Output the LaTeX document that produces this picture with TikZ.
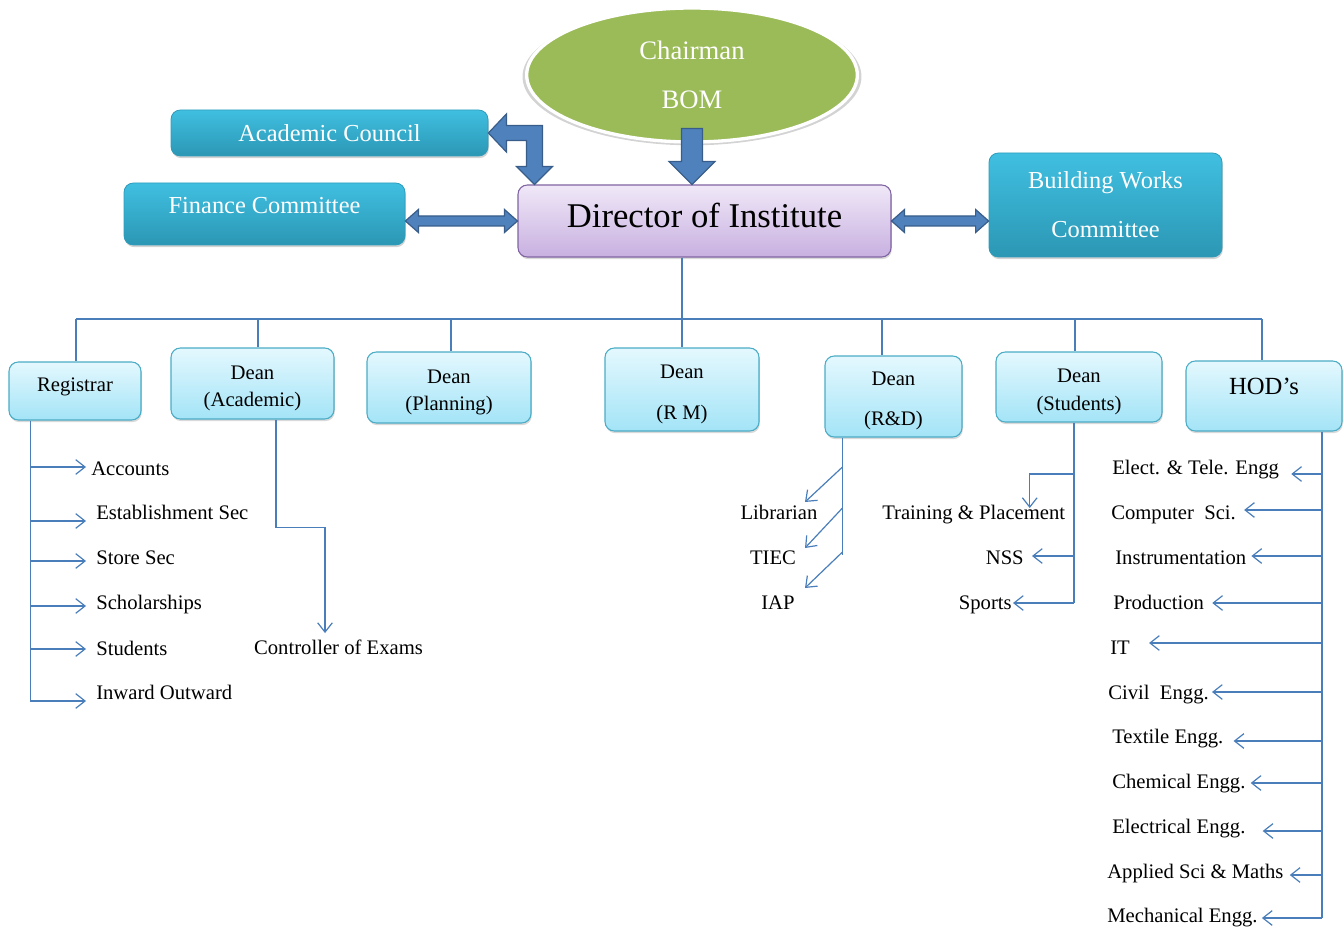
\documentclass[tikz,border=0pt]{standalone}
\usepackage{fontspec}
\setmainfont{Liberation Serif}
\usetikzlibrary{positioning, arrows.meta, shapes.geometric, shadows, calc}

\definecolor{teal1}{HTML}{40BFE1}
\definecolor{teal2}{HTML}{2B97B4}
\definecolor{tealedge}{HTML}{2E9CBA}
\definecolor{cyan1}{HTML}{E4F8FE}
\definecolor{cyan2}{HTML}{A3E4F7}
\definecolor{cyanedge}{HTML}{4BACC6}
\definecolor{lav1}{HTML}{F0E8F8}
\definecolor{lav2}{HTML}{C8B0E0}
\definecolor{lavedge}{HTML}{8064A2}
\definecolor{olive}{HTML}{9BBB59}
\definecolor{arrowfill}{HTML}{4F81BD}
\definecolor{arrowedge}{HTML}{385D8A}
\definecolor{linkblue}{HTML}{4A7EBB}

\newcommand{\topstrut}{\rule{0pt}{14pt}}

\begin{document}
\begin{tikzpicture}
  [x=0.75pt, y=-0.75pt,
   committee/.style={rectangle, rounded corners=7pt, top color=teal1, bottom color=teal2,
     draw=tealedge, line width=0.6pt, text=white, font=\fontsize{18.3}{22}\selectfont, align=center,
     drop shadow={opacity=0.35, shadow xshift=0.6pt, shadow yshift=-1.6pt}},
   office/.style={rectangle, rounded corners=7pt, top color=cyan1, bottom color=cyan2,
     draw=cyanedge, line width=0.8pt, font=\fontsize{15.5}{20}\selectfont, align=center,
     drop shadow={opacity=0.3, shadow xshift=0.6pt, shadow yshift=-1.6pt}},
   twoline/.style={text depth=0pt},
   unit/.style={inner sep=0pt, font=\fontsize{15.5}{18}\selectfont, text height=11.6pt, text depth=1.4pt},
   link/.style={draw=linkblue, line width=0.9pt},
   pointer/.style={-{Straight Barb[length=7pt, width=11pt]}},
   blockarrow/.style={fill=arrowfill, draw=arrowedge, line width=0.9pt, line join=miter}]

  \useasboundingbox (0,0) rectangle (1344,930);

  % top level
  \node[ellipse, minimum width=248pt, minimum height=100.5pt, inner sep=0pt, fill=olive,
        draw=white, line width=2.5pt, text=white, font=\fontsize{20}{24}\selectfont, align=center,
        drop shadow={opacity=0.35, shadow xshift=0pt, shadow yshift=-1.2pt, shadow scale=1.025}] (chair) at (692,75) {Chairman\\[12.75pt]BOM};
  \node[committee, minimum width=237.75pt, minimum height=34.5pt] (acad) at (329.5,133) {Academic Council};
  \node[committee, minimum width=210.75pt, minimum height=46.5pt, text height=13.7pt, text depth=15.15pt] (fin) at (264.5,214) {Finance Committee};
  \node[committee, minimum width=174.75pt, minimum height=78pt] (bwc) at (1105.5,205) {Building Works\\[14.75pt]Committee};
  \node[rectangle, rounded corners=7pt, top color=lav1, bottom color=lav2, draw=lavedge, line width=0.8pt,
        font=\fontsize{26}{30}\selectfont, minimum width=279.75pt, minimum height=54pt,
        text height=19.5pt, text depth=9.84pt,
        drop shadow={opacity=0.3, shadow xshift=0.6pt, shadow yshift=-1.6pt}] (dir) at (704.5,221) {Director of Institute};

  % block arrows
  \draw[blockarrow] (chair.south |- dir.north) -- ++(-23,-23) -- ++(12.5,0) -- ++(0,-33) -- ++(21,0) -- ++(0,33) -- ++(12.5,0) -- cycle;
  \coordinate (fa) at (fin.east |- dir.west);
  \draw[blockarrow] (fa) -- ++(13,-11.5) -- ++(0,6.5) -- ($(dir.west)+(-13,-5)$) -- ++(0,-6.5) -- (dir.west)
    -- ++(-13,11.5) -- ++(0,-6.5) -- ($(fa)+(13,5)$) -- ++(0,6.5) -- cycle;
  \coordinate (ba) at (bwc.west |- dir.east);
  \draw[blockarrow] (dir.east) -- ++(13,-11.5) -- ++(0,6.5) -- ($(ba)+(-13,-5)$) -- ++(0,-6.5) -- (ba)
    -- ++(-13,11.5) -- ++(0,-6.5) -- ($(dir.east)+(13,5)$) -- ++(0,6.5) -- cycle;
  \coordinate (ab) at ($(dir.north west)+(17,0)$);
  \coordinate (ac) at (ab |- acad.east);
  \draw[blockarrow] (acad.east) -- ++(18,-19) -- ++(0,11.5) -- ($(ac)+(8,-7.5)$) -- ($(ab)+(8,-18)$) -- ++(10,0)
    -- (ab) -- ++(-18,-18) -- ++(10,0) -- ($(ac)+(-8,7.5)$) -- ($(acad.east)+(18,7.5)$) -- ++(0,11.5) -- cycle;

  % second level
  \node[office, minimum width=99pt, minimum height=43.5pt, text height=11.6pt, text depth=10.4pt] (reg) at (75,391) {Registrar};
  \node[office, twoline, minimum width=122.25pt, minimum height=53.25pt] (dac) at (252.5,383.5) {\topstrut Dean\\(Academic)};
  \node[office, twoline, minimum width=123pt, minimum height=53.25pt] (dpl) at (449,387.5) {\topstrut Dean\\(Planning)};
  \node[office, twoline, minimum width=115.5pt, minimum height=62.25pt] (drm) at (682,389.5) {\topstrut Dean\\[10.5pt](R M)};
  \node[office, twoline, minimum width=102.75pt, minimum height=60.75pt] (drd) at (893.5,396.5) {\topstrut Dean\\[10pt](R\&D)};
  \node[office, twoline, minimum width=124.5pt, minimum height=52.5pt] (dst) at (1079,387) {\topstrut Dean\\[1pt](Students)};
  \node[office, font=\fontsize{18.5}{22}\selectfont, minimum width=117pt, minimum height=52.5pt,
        text height=13.9pt, text depth=16.67pt] (hod) at (1264,396) {HOD’s};

  \coordinate (bus) at (0,319);
  \draw[link] (drm.north |- dir.south) -- (drm.north);
  \draw[link] ($(reg.north |- bus)+(1,0)$) -- ($(hod.north |- bus)+(-2,0)$);
  \foreach \n/\dx in {reg/1, dac/5.5, dpl/2, drd/-11.5, dst/-4, hod/-2}
    \draw[link] ($(\n.north |- bus)+(\dx,0)$) -- ($(\n.north)+(\dx,0)$);

  % registrar
  \foreach \n/\x/\y/\txt in {acc/91/469/Accounts, est/96/513/Establishment Sec, sto/96/558/Store Sec,
      sch/96/603/Scholarships, stu/96/649/Students, inw/96/693/Inward Outward}
    \node[unit, anchor=west] (\n) at (\x,\y) {\txt};
  \coordinate (rt) at ($(reg.south west)+(22,0)$);
  \draw[link] (rt) -- ($(rt |- inw.west)+(0,8)$);
  \foreach \n/\dy/\dx in {acc/-2/-5, est/8/-10, sto/3/-10, sch/3/-10, stu/0/-10, inw/8/-10}
    \draw[link, pointer] ($(rt |- \n.west)+(0,\dy)$) -- ($(\n.west)+(\dx,\dy)$);

  % dean academic
  \node[unit] (coe) at (338.5,648) {Controller of Exams};
  \coordinate (at) at ($(dac.south)+(23.5,0)$);
  \draw[link, pointer] (at) -- ++(0,108) -| ($(coe.north)+(-13.5,-6)$);

  % dean r&d
  \node[unit] (lib) at (779,513) {Librarian};
  \node[unit] (tiec) at (773,558) {TIEC};
  \node[unit] (iap) at (778,603) {IAP};
  \coordinate (rdt) at ($(drd.south west)+(18,0)$);
  \draw[link] (rdt) -- ($(rdt |- iap)+(0,-48)$);
  \draw[link, pointer] ($(rdt |- lib)+(0,-46)$) -- ($(lib)+(26,-11)$);
  \draw[link, pointer] ($(rdt |- tiec)+(0,-50)$) -- ($(tiec)+(32,-10)$);
  \draw[link, pointer] ($(rdt |- iap)+(0,-51)$) -- ($(iap)+(27,-15)$);

  % dean students
  \node[unit, anchor=west] (tp) at (882,513) {Training \& Placement};
  \node[unit, anchor=east] (nss) at (1024,558) {NSS};
  \node[unit, anchor=east] (spo) at (1012,603) {Sports};
  \coordinate (stt) at ($(dst.south)+(-5,0)$);
  \draw[link] (stt) -- (stt |- spo.east);
  \draw[link, pointer] ($(stt |- tp.north)+(0,-30)$) -| ($(tp.north)+(56,4)$);
  \draw[link, pointer] ($(stt |- nss.east)+(0,-2)$) -- ($(nss.east)+(8,-2)$);
  \draw[link, pointer] (stt |- spo.east) -- ($(spo.east)+(1,0)$);

  % hods
  \foreach \n/\x/\y/\txt in {et/1112/468/Elect. \& Tele. Engg, cs/1111/513/Computer~ Sci., ins/1115/558/Instrumentation,
      prod/1113/603/Production, it/1110/648/IT, civ/1108/693/Civil~ Engg., tex/1112/737/Textile Engg.,
      chem/1112/782/Chemical Engg., elec/1112/827/Electrical Engg., app/1107/872/Applied Sci \& Maths,
      mech/1107/916/Mechanical Engg.}
    \node[unit, anchor=west] (\n) at (\x,\y) {\txt};
  \coordinate (ht) at ($(hod.south)+(58,0)$);
  \draw[link] (ht) -- ($(ht |- mech.east)+(0,2)$);
  \foreach \n/\dy/\dx in {et/6/12, cs/-3/8, ins/-2/5, prod/0/8, it/-5/19, civ/-1/3, tex/4/10,
      chem/1/5, elec/4/17, app/3/6, mech/2/4}
    \draw[link, pointer] ($(ht |- \n.east)+(0,\dy)$) -- ($(\n.east)+(\dx,\dy)$);
\end{tikzpicture}
\end{document}
